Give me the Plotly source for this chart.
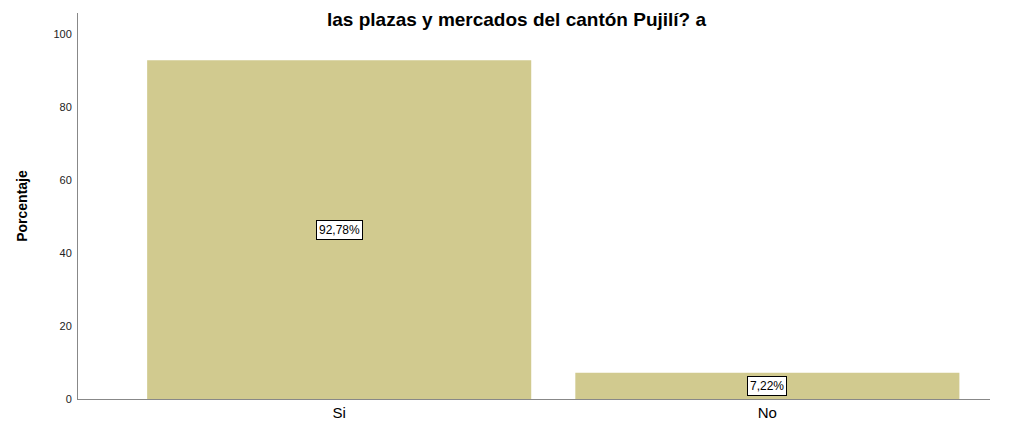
import plotly.graph_objects as go

categories = ["Si", "No"]
percent = [92.78, 7.22]
labels = ["92,78%", "7,22%"]
title_text = "las plazas y mercados del cantón Pujilí? a"

bar_color = "#d1ca8f"

fig = go.Figure()
fig.add_trace(go.Bar(x=categories, y=percent, marker=dict(color=bar_color, line=dict(width=0)),
                     width=0.897, showlegend=False, hoverinfo="skip"))

for c, v, t in zip(categories, percent, labels):
    fig.add_annotation(x=c, y=v / 2, text=t, showarrow=False,
                       font=dict(family="Liberation Sans, Arial", size=12, color="black"),
                       bgcolor="white", bordercolor="black", borderwidth=1, borderpad=2)

fig.update_layout(
    width=1009, height=415,
    margin=dict(l=70, r=27, t=5, b=24, autoexpand=False),
    plot_bgcolor="white", paper_bgcolor="white",
    title=dict(text="<b>" + title_text + "</b>", x=0.504, xanchor="center",
               y=0.9735, yanchor="middle", yref="container",
               font=dict(family="Liberation Sans, Arial", size=19, color="black")),
    xaxis=dict(range=[-0.61, 1.52], showline=True, linecolor="#888888", linewidth=1,
               ticks="", showgrid=False, zeroline=False, automargin=False,
               tickfont=dict(family="Liberation Sans, Arial", size=15, color="black")),
    yaxis=dict(range=[0, 105.7], showline=True, linecolor="#888888", linewidth=1,
               tickvals=[0, 20, 40, 60, 80, 100], ticks="outside", ticklen=3,
               tickcolor="white", showgrid=False, zeroline=False, automargin=False,
               tickfont=dict(family="Liberation Sans, Arial", size=11, color="#222222"),
               title=dict(text="<b>Porcentaje</b>", standoff=22,
                          font=dict(family="Liberation Sans, Arial", size=14, color="black"))),
)

fig.write_html("out.html")
